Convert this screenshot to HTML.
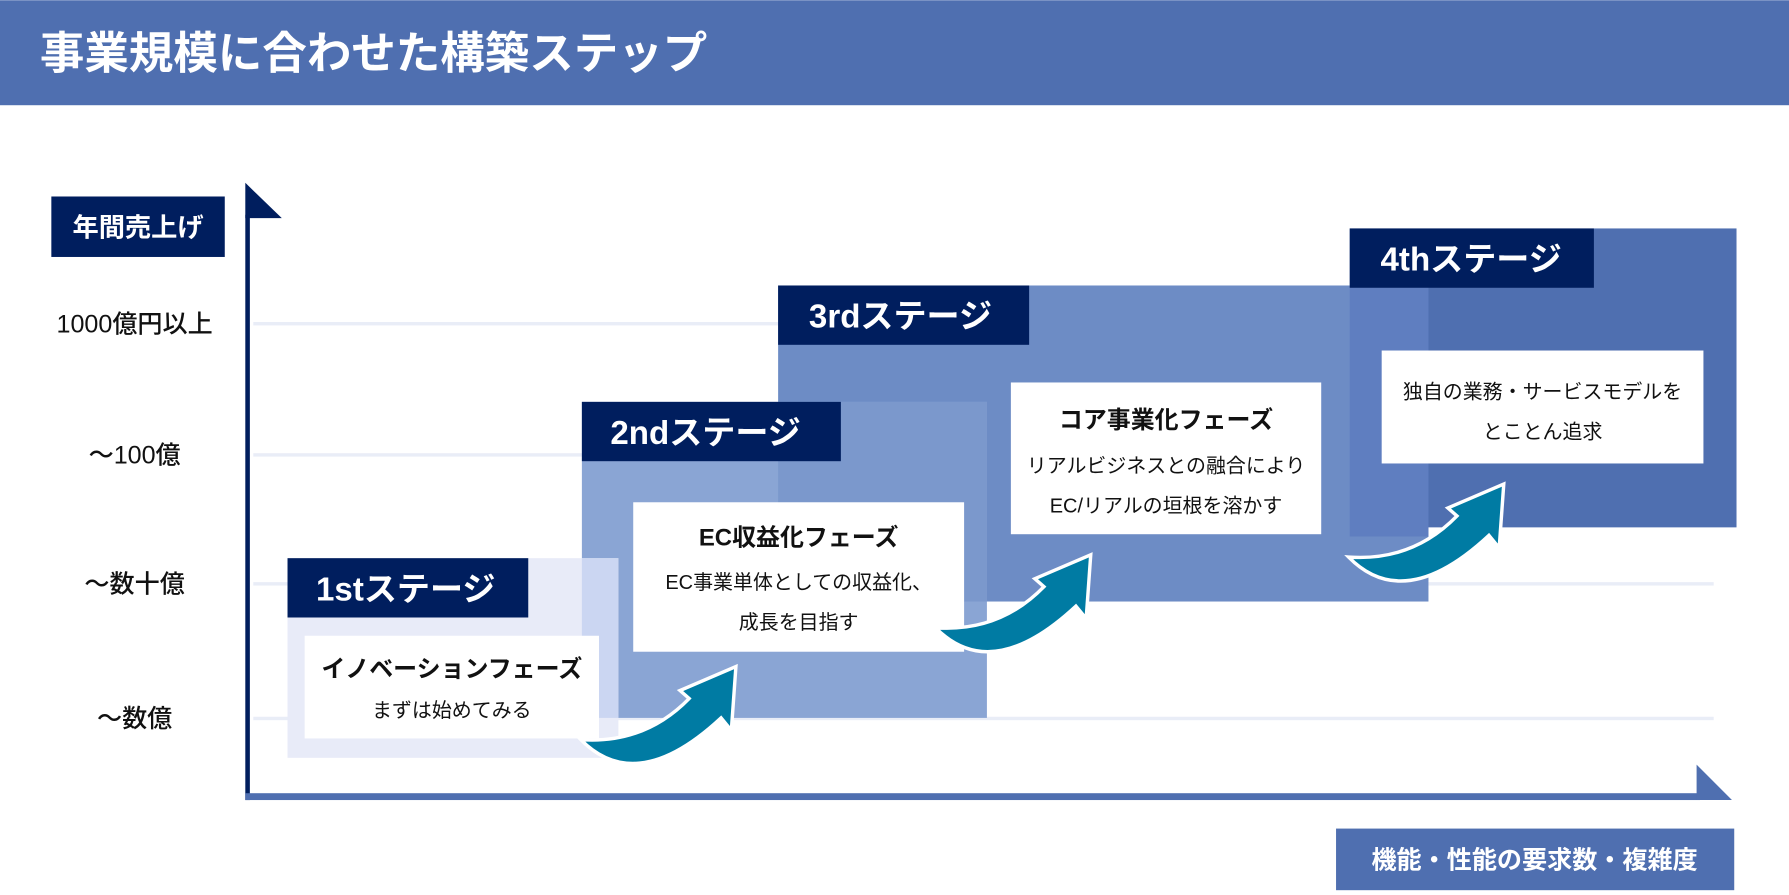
<!DOCTYPE html>
<html><head><meta charset="utf-8"><style>
html,body{margin:0;padding:0;background:#fff;}
svg{display:block;}
text{font-family:"Liberation Sans","Noto Sans CJK JP",sans-serif;}
</style></head><body>
<svg width="1789" height="895" viewBox="0 0 1568 784" xmlns="http://www.w3.org/2000/svg">
<rect x="0" y="0" width="1568" height="92" fill="#4f6fb0"/>
<text x="35" y="60" font-size="39" font-weight="700" fill="#fff">事業規模に合わせた構築ステップ</text>

<g fill="#e9edf7">
<rect x="222" y="282" width="1280" height="3"/>
<rect x="222" y="397" width="1280" height="3"/>
<rect x="222" y="510" width="1280" height="3"/>
<rect x="222" y="628" width="1280" height="3"/>
</g>

<g font-size="22" font-weight="500" fill="#111" text-anchor="middle">
<text x="118" y="291">1000億円以上</text>
<text x="118" y="406">〜100億</text>
<text x="118" y="519">〜数十億</text>
<text x="118" y="637">〜数億</text>
</g>
<rect x="45" y="172" width="152" height="53" fill="#001e5e"/>
<text x="121" y="207" font-size="23" font-weight="700" fill="#fff" text-anchor="middle">年間売上げ</text>

<rect x="682" y="250" width="570" height="277" fill="#6d8cc5"/>
<rect x="1183" y="250" width="69" height="220" fill="#5f7ec0"/>
<rect x="1252" y="200" width="270" height="262" fill="#4f6fb0"/>
<rect x="1183" y="200" width="69" height="50" fill="#4f6fb0"/>
<rect x="510" y="352" width="355" height="277" fill="#8aa5d4"/>
<rect x="682" y="352" width="183" height="175" fill="#7b98cc"/>
<rect x="252" y="489" width="290" height="175" fill="#e8ebf8"/>
<rect x="510" y="489" width="32" height="140" fill="#cbd6f2"/>

<g fill="#001e5e">
<rect x="252" y="489" width="211" height="52"/>
<rect x="510" y="352" width="227" height="52"/>
<rect x="682" y="250" width="220" height="52"/>
<rect x="1183" y="200" width="214" height="52"/>
</g>
<g font-size="29" font-weight="700" fill="#fff">
<text x="277" y="526">1stステージ</text>
<text x="535" y="389">2ndステージ</text>
<text x="709" y="287">3rdステージ</text>
<text x="1210" y="237">4thステージ</text>
</g>

<g fill="#fff">
<rect x="267" y="557" width="258" height="90"/>
<rect x="555" y="440" width="290" height="131"/>
<rect x="886" y="335" width="272" height="133"/>
<rect x="1211" y="307" width="282" height="99"/>
</g>
<g text-anchor="middle" fill="#111">
<text x="396" y="593" font-size="21" font-weight="700">イノベーションフェーズ</text>
<text x="396" y="628" font-size="17.5">まずは始めてみる</text>
<text x="700" y="478" font-size="21" font-weight="700">EC収益化フェーズ</text>
<text x="700" y="516" font-size="17.5">EC事業単体としての収益化、</text>
<text x="700" y="551" font-size="17.5">成長を目指す</text>
<text x="1022" y="375" font-size="21" font-weight="700">コア事業化フェーズ</text>
<text x="1022" y="414" font-size="17.5">リアルビジネスとの融合により</text>
<text x="1022" y="449" font-size="17.5">EC/リアルの垣根を溶かす</text>
<text x="1352" y="349" font-size="17.5">独自の業務・サービスモデルを</text>
<text x="1352" y="384" font-size="17.5">とことん追求</text>
</g>

<defs>
<path id="arr" d="M509,648 Q565,652 604,612 L596,605 L645,584 L641,640 L632,629 Q558,698 509,648 Z"/>
</defs>
<g fill="#007ba3" stroke="#fff" stroke-width="3" stroke-linejoin="miter">
<use href="#arr"/>
<use href="#arr" transform="translate(311,-98)"/>
<use href="#arr" transform="translate(673,-160)"/>
</g>

<rect x="215" y="188" width="4" height="513" fill="#001e5e"/>
<polygon points="215,160 247,191 215,191" fill="#001e5e"/>
<rect x="215" y="695" width="1275" height="6" fill="#4f6fb0"/>
<polygon points="1487,670 1518,701 1487,701" fill="#4f6fb0"/>

<rect x="1171" y="726" width="349" height="54" fill="#4f6fb0"/>
<text x="1345" y="761" font-size="22" font-weight="700" fill="#fff" text-anchor="middle">機能・性能の要求数・複雑度</text>
</svg>
</body></html>
